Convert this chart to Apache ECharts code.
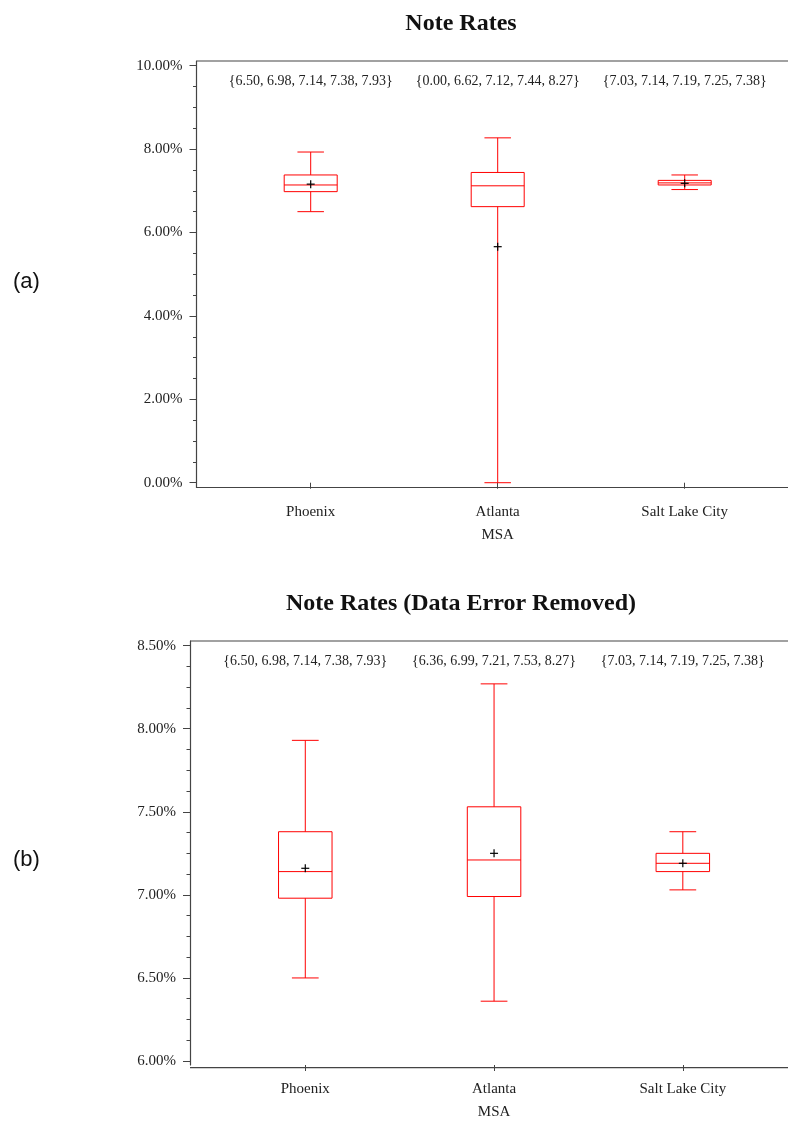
<!DOCTYPE html>
<html>
<head>
<meta charset="utf-8">
<script src="https://cdn.jsdelivr.net/npm/echarts@6/dist/echarts.min.js"></script>
<style>
  html, body { margin: 0; padding: 0; background: #fff; }
  #main { width: 788px; height: 1121px; }
</style>
</head>
<body>
<div id="main"></div>
<script>
// categories
const categories = ['Phoenix', 'Atlanta', 'Salt Lake City'];

// five-number summaries [min, q1, median, q3, max]
const statsA = [
  [6.50, 6.98, 7.14, 7.38, 7.93],
  [0.00, 6.62, 7.12, 7.44, 8.27],
  [7.03, 7.14, 7.19, 7.25, 7.38]
];
const meansA = [7.16, 5.66, 7.18];

const statsB = [
  [6.50, 6.98, 7.14, 7.38, 7.93],
  [6.36, 6.99, 7.21, 7.53, 8.27],
  [7.03, 7.14, 7.19, 7.25, 7.38]
];
const meansB = [7.16, 7.25, 7.19];

// y tick values
const majorTicksA = [0, 2, 4, 6, 8, 10];
const minorTicksA = [0.5, 1, 1.5, 2.5, 3, 3.5, 4.5, 5, 5.5, 6.5, 7, 7.5, 8.5, 9, 9.5];
const majorTicksB = [6, 6.5, 7, 7.5, 8, 8.5];
const minorTicksB = [6.125, 6.25, 6.375, 6.625, 6.75, 6.875, 7.125, 7.25, 7.375,
  7.625, 7.75, 7.875, 8.125, 8.25, 8.375];

const W = 788, H = 1121;
const serif = 'Liberation Serif';
const axisColor = '#444';

// layout of the two panels
const panels = [
  { axisX: 196.5, left: 217.2, right: 778.2, top: 61, bottom: 487.5, min: -0.115, max: 10.113,
    title: 'Note Rates', titleY: 24, tag: '(a)', tagY: 282 },
  { axisX: 190, left: 210.9, right: 777.2, top: 641, bottom: 1067.7, min: 5.976, max: 8.528,
    title: 'Note Rates (Data Error Removed)', titleY: 604, tag: '(b)', tagY: 860 }
];

const fmt = v => v.toFixed(2);
const summary = s => '{' + s.map(fmt).join(', ') + '}';

function boxItem(params, api) {
  const cx = api.coord([api.value(0), 0])[0];
  const band = api.size([1, 0])[0];
  const half = band * 0.1417;
  const cap = half / 2;
  const y = i => api.coord([api.value(0), api.value(i)])[1];
  const yMin = y(1), yQ1 = y(2), yMed = y(3), yQ3 = y(4), yMax = y(5), yMean = y(6);
  const red = { stroke: '#ff0000', lineWidth: 1, fill: null };
  const line = (x1, y1, x2, y2, style) => ({ type: 'line', shape: { x1, y1, x2, y2 }, style });
  const black = { stroke: '#000', lineWidth: 1.2 };
  return {
    type: 'group',
    children: [
      line(cx, yQ3, cx, yMax, red),
      line(cx, yQ1, cx, yMin, red),
      line(cx - cap, yMax, cx + cap, yMax, red),
      line(cx - cap, yMin, cx + cap, yMin, red),
      { type: 'rect', shape: { x: cx - half, y: yQ3, width: half * 2, height: yQ1 - yQ3 }, style: red },
      line(cx - half, yMed, cx + half, yMed, red),
      line(cx - 4, yMean, cx + 4, yMean, black),
      line(cx, yMean - 4, cx, yMean + 4, black)
    ]
  };
}

const chart = echarts.init(document.getElementById('main'));

const grids = [], xAxes = [], yAxes = [], series = [], graphics = [];
const allStats = [statsA, statsB];
const allMeans = [meansA, meansB];
const majors = [majorTicksA, majorTicksB];
const minors = [minorTicksA, minorTicksB];

panels.forEach((p, g) => {
  grids.push({ left: p.left, right: W - p.right, top: p.top, bottom: H - p.bottom });
  // bottom category axis
  xAxes.push({
    type: 'category', gridIndex: g, data: categories, position: 'bottom',
    name: 'MSA', nameLocation: 'middle', nameGap: 40,
    nameTextStyle: { fontFamily: serif, fontSize: 15, color: '#222' },
    axisLine: { show: false },
    axisTick: { show: true, alignWithLabel: true, length: 6, lineStyle: { color: axisColor } },
    axisLabel: { interval: 0, margin: 17, fontFamily: serif, fontSize: 15, color: '#222' }
  });
  // top axis carrying the summary text
  const st = allStats[g];
  xAxes.push({
    type: 'category', gridIndex: g, data: categories, position: 'top',
    axisLine: { show: false }, axisTick: { show: false },
    axisLabel: { inside: true, interval: 0, margin: 13, fontFamily: serif, fontSize: 14, color: '#222',
      formatter: (v, i) => summary(st[i]) }
  });
  const off = p.left - p.axisX;
  yAxes.push({
    type: 'value', gridIndex: g, position: 'left', offset: off, min: p.min, max: p.max,
    splitLine: { show: false },
    axisLine: { show: true, lineStyle: { color: axisColor, width: 1.2 } },
    axisTick: { show: true, length: 7, customValues: majors[g], lineStyle: { color: axisColor } },
    axisLabel: { customValues: majors[g], margin: 14, fontFamily: serif, fontSize: 15, color: '#222',
      formatter: v => fmt(v) + '%' }
  });
  yAxes.push({
    type: 'value', gridIndex: g, position: 'left', offset: off, min: p.min, max: p.max,
    splitLine: { show: false }, axisLine: { show: false },
    axisTick: { show: true, length: 3.5, customValues: minors[g], lineStyle: { color: axisColor } },
    axisLabel: { show: false }
  });
  series.push({
    type: 'custom', xAxisIndex: g * 2, yAxisIndex: g * 2,
    encode: { x: 0, y: [1, 2, 3, 4, 5, 6] },
    renderItem: boxItem,
    data: st.map((s, i) => [i, ...s, allMeans[g][i]])
  });
  // frame lines (top border and x axis line)
  [p.top, p.bottom].forEach(yy => graphics.push({
    type: 'line', shape: { x1: p.axisX, y1: yy, x2: W, y2: yy },
    style: { stroke: axisColor, lineWidth: 1.2 }
  }));
  graphics.push({
    type: 'text', x: 461, y: p.titleY,
    style: { text: p.title, font: 'bold 24px "Liberation Serif"', fill: '#111',
      textAlign: 'center', textVerticalAlign: 'middle' }
  });
  graphics.push({
    type: 'text', x: 13, y: p.tagY,
    style: { text: p.tag, font: '22px "Liberation Sans"', fill: '#111',
      textAlign: 'left', textVerticalAlign: 'middle' }
  });
});

chart.setOption({
  animation: false,
  backgroundColor: '#fff',
  grid: grids,
  xAxis: xAxes,
  yAxis: yAxes,
  series: series,
  graphic: graphics
});
</script>
</body>
</html>
